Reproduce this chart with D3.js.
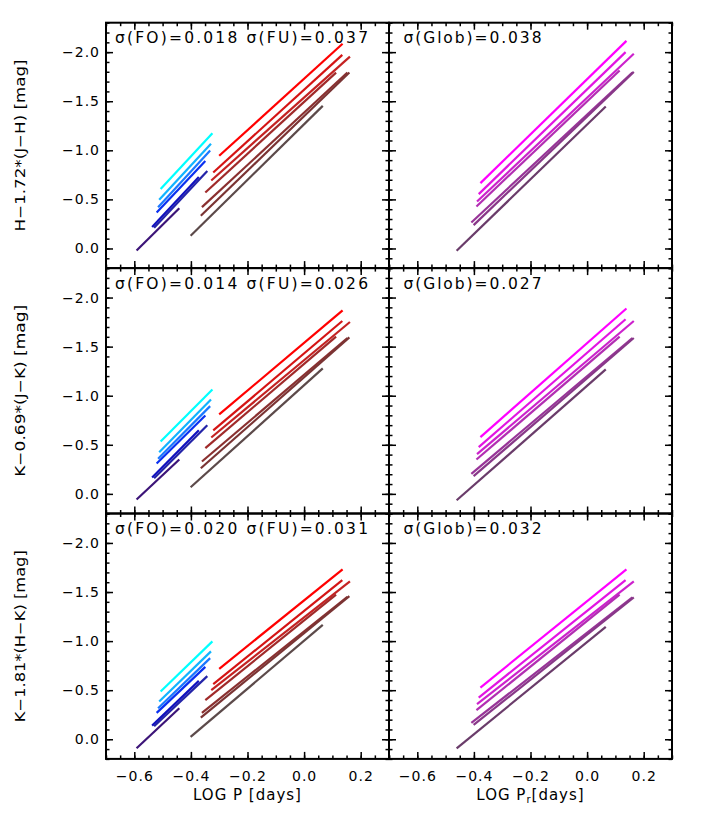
<!DOCTYPE html>
<html>
<head>
<meta charset="utf-8">
<script src="https://cdn.jsdelivr.net/npm/d3@7"></script>
<style>
  body { margin: 0; background: #fff; }
  text { font-family: "DejaVu Sans", sans-serif; fill: #000; }
</style>
</head>
<body>
<svg id="chart" width="708" height="817"></svg>
<script>
// period ranges [start, end] of each relation (log P), one row per metallicity
const foLogP = [[-0.507, -0.324], [-0.512, -0.329], [-0.516, -0.332], [-0.521, -0.349], [-0.537, -0.372], [-0.530, -0.342], [-0.592, -0.441]];
const fuLogP = [[-0.300, 0.136], [-0.321, 0.135], [-0.328, 0.162], [-0.349, 0.113], [-0.361, 0.153], [-0.365, 0.160], [-0.401, 0.066]];
const globLogP = [[-0.377, 0.139], [-0.383, 0.136], [-0.389, 0.165], [-0.391, 0.115], [-0.409, 0.160], [-0.401, 0.165], [-0.461, 0.066]];

// wesenheit values at the start / end of each relation
const foHJ = [[-0.605, -1.175], [-0.496, -1.066], [-0.421, -0.998], [-0.367, -0.890], [-0.218, -0.727], [-0.211, -0.788], [0.020, -0.410]];
const fuHJ = [[-0.944, -2.085], [-0.774, -1.972], [-0.692, -1.955], [-0.570, -1.792], [-0.421, -1.792], [-0.333, -1.792], [-0.129, -1.453]];
const globHJ = [[-0.666, -2.115], [-0.554, -2.000], [-0.479, -1.983], [-0.428, -1.813], [-0.265, -1.792], [-0.238, -1.799], [0.023, -1.446]];

const foJK = [[-0.534, -1.064], [-0.425, -0.962], [-0.357, -0.894], [-0.309, -0.799], [-0.166, -0.649], [-0.159, -0.700], [0.058, -0.350]];
const fuJK = [[-0.809, -1.870], [-0.646, -1.761], [-0.574, -1.751], [-0.466, -1.602], [-0.330, -1.588], [-0.261, -1.595], [-0.067, -1.279]];
const globJK = [[-0.578, -1.888], [-0.476, -1.779], [-0.404, -1.761], [-0.350, -1.602], [-0.204, -1.588], [-0.180, -1.588], [0.065, -1.268]];

const foHK = [[-0.487, -0.997], [-0.385, -0.895], [-0.316, -0.827], [-0.269, -0.738], [-0.139, -0.595], [-0.133, -0.643], [0.092, -0.316]];
const fuHK = [[-0.718, -1.731], [-0.561, -1.622], [-0.500, -1.609], [-0.398, -1.473], [-0.269, -1.452], [-0.221, -1.459], [-0.024, -1.166]];
const globHK = [[-0.527, -1.731], [-0.425, -1.622], [-0.357, -1.609], [-0.296, -1.473], [-0.167, -1.446], [-0.146, -1.446], [0.092, -1.146]];

const foColors = ["#00ffff", "#10b4ff", "#1a78ff", "#0a30f0", "#1010c0", "#2424a8", "#3c1478"];
const fuColors = ["#ff0000", "#d41414", "#c42222", "#a02a2a", "#8a3030", "#7a3434", "#5c4a4a"];
const globColors = ["#ff00ff", "#e214e2", "#cc22cc", "#b22eb2", "#983498", "#883888", "#6a3c6a"];

const yLabels = ["H\u22121.72*(J\u2212H) [mag]", "K\u22120.69*(J\u2212K) [mag]", "K\u22121.81*(H\u2212K) [mag]"];
const sigmaFO = ["0.018", "0.014", "0.020"];
const sigmaFU = ["0.037", "0.026", "0.031"];
const sigmaGlob = ["0.038", "0.027", "0.032"];

const xTicks = [-0.6, -0.4, -0.2, 0.0, 0.2];
const yTicks = [-2.0, -1.5, -1.0, -0.5, 0.0];

// layout
const c_left = 106,
    c_panelW = 283,
    c_top = 22.7,
    c_panelH = 245.4;
const xDomain = [-0.7, 0.3],
    yDomain = [-2.3, 0.2];

var xMinor = d3.range(-0.7, 0.3001, 0.05).map(function (v) { return +v.toFixed(2); });
var yMinor = d3.range(-2.3, 0.2001, 0.1).map(function (v) { return +v.toFixed(1); });

function drawAxes(svgBase, px, py, showX, showY) {
    var x = d3.scaleLinear().domain(xDomain).range([px, px + c_panelW]);
    var y = d3.scaleLinear().domain(yDomain).range([py, py + c_panelH]);
    var fmt = d3.format(".1f");

    var sides = [
        { ax: d3.axisBottom(x), t: "translate(0," + (py + c_panelH) + ")", lab: showX, maj: xTicks, min: xMinor },
        { ax: d3.axisTop(x), t: "translate(0," + py + ")", lab: false, maj: xTicks, min: xMinor },
        { ax: d3.axisLeft(y), t: "translate(" + px + ",0)", lab: showY, maj: yTicks, min: yMinor },
        { ax: d3.axisRight(y), t: "translate(" + (px + c_panelW) + ",0)", lab: false, maj: yTicks, min: yMinor }
    ];

    sides.forEach(function (s) {
        // minor ticks
        var gMin = svgBase.append("g").attr("transform", s.t)
            .call(s.ax.tickValues(s.min).tickSize(-3.5).tickFormat(""));
        gMin.select(".domain").remove();
        gMin.selectAll("line").attr("stroke-width", 1.5);

        // major ticks
        var gMaj = svgBase.append("g").attr("transform", s.t)
            .call(s.ax.tickValues(s.maj).tickSize(-7)
                .tickPadding(s.ax === sides[0].ax ? 12 : 6)
                .tickFormat(s.lab ? fmt : ""));
        gMaj.select(".domain").remove();
        gMaj.selectAll("line").attr("stroke-width", 1.5);
        gMaj.selectAll("text")
            .attr("font-size", 14)
            .attr("letter-spacing", 1)
            .attr("font-family", "DejaVu Sans");
    });

    return { x: x, y: y };
}

function drawRelations(svgBase, sc, logP, mags, colors) {
    var segs = [];
    for (let i = 0; i < logP.length; i++) {
        segs.push({ p: logP[i], m: mags[i], color: colors[i] });
    }
    svgBase.append("g").selectAll("line")
        .data(segs)
        .enter()
        .append("line")
        .attr("x1", function (d) { return sc.x(d.p[0]); })
        .attr("y1", function (d) { return sc.y(d.m[0]); })
        .attr("x2", function (d) { return sc.x(d.p[1]); })
        .attr("y2", function (d) { return sc.y(d.m[1]); })
        .attr("stroke", function (d) { return d.color; })
        .attr("stroke-width", 2.2);
}

var svgBase = d3.select("#chart");

var rows = [
    { fo: foHJ, fu: fuHJ, glob: globHJ },
    { fo: foJK, fu: fuJK, glob: globJK },
    { fo: foHK, fu: fuHK, glob: globHK }
];

rows.forEach(function (r, iRow) {
    var py = c_top + iRow * c_panelH;
    var last = iRow == rows.length - 1;

    // left panel: FO + FU
    var scL = drawAxes(svgBase, c_left, py, last, true);
    drawRelations(svgBase, scL, foLogP, r.fo, foColors);
    drawRelations(svgBase, scL, fuLogP, r.fu, fuColors);

    // right panel: global (fundamentalized)
    var scR = drawAxes(svgBase, c_left + c_panelW, py, last, false);
    drawRelations(svgBase, scR, globLogP, r.glob, globColors);

    svgBase.append("text")
        .attr("x", 115).attr("y", py + 20.5)
        .attr("font-size", 15.5)
        .attr("textLength", 253).attr("lengthAdjust", "spacing")
        .text("\u03c3(FO)=" + sigmaFO[iRow] + " \u03c3(FU)=" + sigmaFU[iRow]);

    svgBase.append("text")
        .attr("x", 403.5).attr("y", py + 20.5)
        .attr("font-size", 15.5)
        .attr("textLength", 138).attr("lengthAdjust", "spacing")
        .text("\u03c3(Glob)=" + sigmaGlob[iRow]);

    // y title
    var cy = py + c_panelH / 2;
    svgBase.append("text")
        .attr("transform", "translate(25," + cy + ") rotate(-90)")
        .attr("text-anchor", "middle")
        .attr("font-size", 14)
        .attr("textLength", 172).attr("lengthAdjust", "spacingAndGlyphs")
        .text(yLabels[iRow]);
});

// panel frames
for (let iRow = 0; iRow < 3; iRow++) {
    for (let iCol = 0; iCol < 2; iCol++) {
        svgBase.append("rect")
            .attr("x", c_left + iCol * c_panelW)
            .attr("y", c_top + iRow * c_panelH)
            .attr("width", c_panelW)
            .attr("height", c_panelH)
            .attr("fill", "none")
            .attr("stroke", "black")
            .attr("stroke-width", 2);
    }
}

// x titles
var yTitle = c_top + 3 * c_panelH + 41;
svgBase.append("text")
    .attr("x", c_left + c_panelW / 2).attr("y", yTitle)
    .attr("text-anchor", "middle")
    .attr("font-size", 15)
    .attr("letter-spacing", 1)
    .text("LOG P [days]");

var t2 = svgBase.append("text")
    .attr("x", c_left + c_panelW * 1.5).attr("y", yTitle)
    .attr("text-anchor", "middle")
    .attr("font-size", 15)
    .attr("letter-spacing", 1);
t2.append("tspan").text("LOG P");
t2.append("tspan").attr("font-size", 10).attr("dy", 3).text("r");
t2.append("tspan").attr("dy", -3).text("[days]");
</script>
</body>
</html>
